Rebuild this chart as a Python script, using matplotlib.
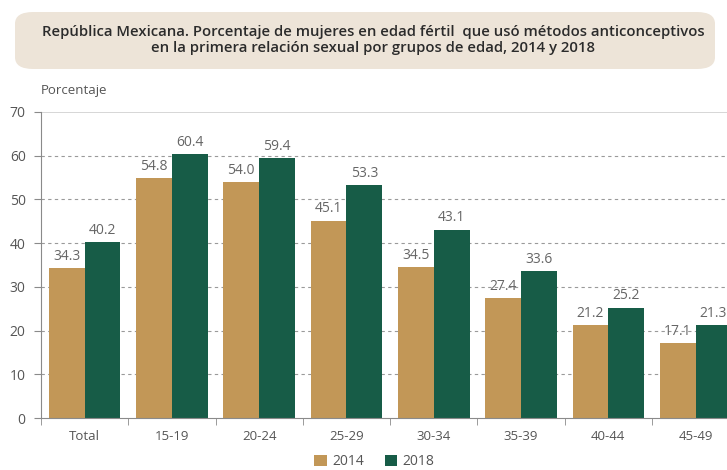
import matplotlib.pyplot as plt
import numpy as np
from matplotlib.patches import FancyBboxPatch

# === DATA ===
groups = ['Total', '15-19', '20-24', '25-29', '30-34', '35-39', '40-44', '45-49']
vals_2014 = [34.3, 54.8, 54.0, 45.1, 34.5, 27.4, 21.2, 17.1]
vals_2018 = [40.2, 60.4, 59.4, 53.3, 43.1, 33.6, 25.2, 21.3]
years = ['2014', '2018']
y_ticks = [0, 10, 20, 30, 40, 50, 60, 70]

# === STYLE ===
C14 = '#c29757'
C18 = '#175c47'
GREY = '#8a8a8a'
TXT = '#555555'
plt.rcParams['font.family'] = ['Open Sans', 'DejaVu Sans']

fig = plt.figure(figsize=(7.27, 4.7), dpi=100)

# title box
box = FancyBboxPatch((15 / 727, 1 - 69 / 470), 700 / 727, 57 / 470,
                     boxstyle='round,pad=0,rounding_size=0.025',
                     transform=fig.transFigure, facecolor='#ede4d8', edgecolor='none')
fig.patches.append(box)
fig.text(0.513, 1 - 40 / 470,
         'República Mexicana. Porcentaje de mujeres en edad fértil  que usó métodos anticonceptivos\n'
         'en la primera relación sexual por grupos de edad, 2014 y 2018',
         ha='center', va='center', fontsize=10.7, fontweight='semibold', color='#2b2b2b',
         linespacing=1.25)

ax = fig.add_axes([41 / 727, 1 - 418 / 470, 1 - 41 / 727, (418 - 112) / 470])
x = np.arange(len(groups))
w = 0.41
b1 = ax.bar(x - w / 2, vals_2014, w, color=C14, label=years[0])
b2 = ax.bar(x + w / 2, vals_2018, w, color=C18, label=years[1])

for bars, vals in ((b1, vals_2014), (b2, vals_2018)):
    for r, v in zip(bars, vals):
        ax.text(r.get_x() + r.get_width() / 2, v + 1.0, f'{v:.1f}', ha='center', va='bottom',
                fontsize=10, color='#666666')

ax.set_xlim(-0.5, 7.36)
ax.set_ylim(0, 70)
ax.set_yticks(y_ticks)
ax.set_yticklabels([str(t) for t in y_ticks], fontsize=10, color=TXT)
ax.set_xticks(x)
ax.set_xticklabels(groups, fontsize=9.5, color=TXT)
ax.set_xticks(np.arange(len(groups)) - 0.5, minor=True)
ax.tick_params(axis='x', which='major', length=0, pad=9)
ax.tick_params(axis='x', which='minor', length=5, color=GREY)
ax.tick_params(axis='y', length=5, color=GREY, pad=6)

for t in y_ticks[1:-1]:
    ax.axhline(t, color='#9a9a9a', lw=0.8, ls=(0, (3, 3)), zorder=0)
ax.axhline(70, color='#cfcfcf', lw=1.2, zorder=0)

for s in ['top', 'right']:
    ax.spines[s].set_visible(False)
ax.spines['left'].set_color(GREY)
ax.spines['bottom'].set_color(GREY)

ax.text(0.0, 73.5, 'Porcentaje', fontsize=9.5, color=TXT, ha='left', va='bottom',
        transform=ax.get_yaxis_transform())

fig.legend(handles=[b1, b2], labels=years, loc='lower center', bbox_to_anchor=(0.515, -0.025),
           ncol=2, frameon=False, fontsize=10, handlelength=0.9, handleheight=0.9,
           columnspacing=1.5, handletextpad=0.4, labelcolor=TXT)

fig.savefig('out.png', dpi=100)
